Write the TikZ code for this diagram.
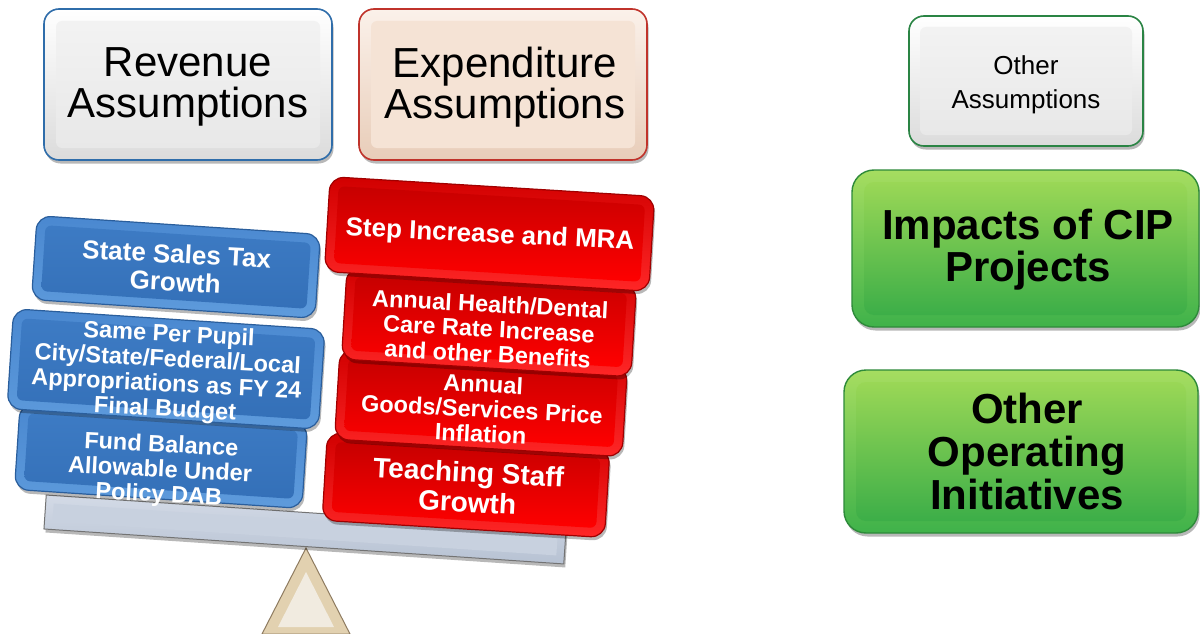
\documentclass[tikz,border=0pt]{standalone}
\usepackage{fontspec}
\setmainfont{Liberation Sans}
\usetikzlibrary{shadows}
\definecolor{revB}{HTML}{2F6DAA}
\definecolor{expB}{HTML}{C0332B}
\definecolor{othB}{HTML}{2A8444}
\definecolor{grnB}{HTML}{2E8A3A}
\definecolor{bluB}{HTML}{2A5E9C}
\definecolor{redB}{HTML}{A00000}
\definecolor{bluT}{HTML}{4A88D0}
\definecolor{bluBo}{HTML}{5E9BDC}
\definecolor{bluPT}{HTML}{3D7BC4}
\definecolor{bluPB}{HTML}{3470B8}
\definecolor{grnT}{HTML}{A6DD60}
\definecolor{grnBo}{HTML}{3FB24A}
\definecolor{grnPT}{HTML}{9AD756}
\definecolor{grnPB}{HTML}{3CAE48}
\definecolor{beamT}{HTML}{D3DAE6}
\definecolor{beamBo}{HTML}{B7C2D3}
\definecolor{beamP}{HTML}{C8D1DF}
\definecolor{fulF}{HTML}{E2D1B0}
\definecolor{fulP}{HTML}{F1EBE0}
\definecolor{fulB}{HTML}{8E7B60}
\definecolor{peachT}{HTML}{FBF1EA}
\definecolor{peachBo}{HTML}{E8CDB9}
\definecolor{peachP}{HTML}{F5E3D5}
\begin{document}
\begin{tikzpicture}[x=1pt,y=-1pt,
  shadowed/.style={drop shadow={shadow xshift=1.5pt,shadow yshift=-3.5pt,opacity=.28,fill=black}},
  topbox/.style={draw=#1,line width=1.6pt,rounded corners=15pt,shadowed,inner sep=0pt},
  graybox/.style={topbox=#1,top color=white,bottom color=black!14},
  graypanel/.style={rounded corners=6pt,inner sep=0pt,top color=black!5,bottom color=black!9},
  peachbox/.style={topbox=#1,top color=peachT,bottom color=peachBo},
  peachpanel/.style={rounded corners=6pt,inner sep=0pt,fill=peachP},
  grnbox/.style={draw=grnB,line width=1.4pt,rounded corners=22pt,shadowed,inner sep=0pt,
     top color=grnT,bottom color=grnBo},
  grnpanel/.style={rounded corners=10pt,inner sep=0pt,top color=grnPT,bottom color=grnPB},
  blubox/.style={draw=bluB,line width=1.2pt,rounded corners=14pt,shadowed,inner sep=0pt,
     top color=bluT,bottom color=bluBo},
  blupanel/.style={rounded corners=6pt,inner sep=0pt,top color=bluPT,bottom color=bluPB},
  redbox/.style={draw=redB,line width=1.2pt,rounded corners=14pt,shadowed,inner sep=0pt,
     top color=red!82!black,bottom color=red!85!white},
  redpanel/.style={rounded corners=6pt,inner sep=0pt,top color=red!78!black,bottom color=red},
  blktxt/.style={text=black,align=center,inner sep=0pt},
  whttxt/.style={text=white,align=center,inner sep=0pt,font=\bfseries\fontsize{23.5}{25}\selectfont},
]
\useasboundingbox (0,0) rectangle (1200,634);
\fill[white] (0,0) rectangle (1200,634);

% ---- top assumption boxes
\node[graybox=revB,minimum width=288pt,minimum height=151pt] (rev) at (188,84.5) {};
\node[graypanel,minimum width=264pt,minimum height=127pt] (revp) at (188,84.5) {};
\node[blktxt,font=\fontsize{42}{41}\selectfont] (revt) at (188,87) {Revenue\\Assumptions};

\node[peachbox=expB,minimum width=288pt,minimum height=151pt] (exp) at (503,84.5) {};
\node[peachpanel,minimum width=264pt,minimum height=127pt] (expp) at (503,84.5) {};
\node[blktxt,font=\fontsize{42}{41}\selectfont] (expt) at (505,87) {Expenditure\\Assumptions};

\node[graybox=othB,minimum width=234pt,minimum height=130pt] (oth) at (1026,81) {};
\node[graypanel,minimum width=212pt,minimum height=108pt] (othp) at (1026,81) {};
\node[blktxt,font=\fontsize{26}{34}\selectfont] (otht) at (1026,85) {Other\\Assumptions};

% ---- green boxes
\node[grnbox,minimum width=347pt,minimum height=157pt] (cip) at (1025.5,248.5) {};
\node[grnpanel,minimum width=323pt,minimum height=133pt] (cipp) at (1025.5,248.5) {};
\node[blktxt,font=\bfseries\fontsize{42}{42}\selectfont] (cipt) at (1028,250) {Impacts of CIP\\Projects};

\node[grnbox,minimum width=354pt,minimum height=163pt] (ooi) at (1021,451.5) {};
\node[grnpanel,minimum width=330pt,minimum height=139pt] (ooip) at (1021,451.5) {};
\node[blktxt,font=\bfseries\fontsize{42}{43}\selectfont] (ooit) at (1027,451) {Other\\Operating\\Initiatives};

% ---- fulcrum
\coordinate (fa) at (306,548);
\coordinate (fl) at (262,634);
\coordinate (fr) at (350,634);
\filldraw[draw=fulB,line width=1pt,fill=fulF] (fa) -- (fr) -- (fl) -- cycle;
\fill[fulP] (306,572) -- (334,627) -- (278,627) -- cycle;

% ---- beam
\node[draw=black!55,line width=1pt,inner sep=0pt,shadowed,minimum width=521pt,minimum height=34pt,rotate=-3.85,
      top color=beamT,bottom color=beamBo] (beam) at (305,529.5) {};
\node[inner sep=0pt,minimum width=505pt,minimum height=18pt,rotate=-3.85,fill=beamP] (beamp) at (305,529.5) {};

% ---- blue revenue stack
\node[blubox,minimum width=288pt,minimum height=86pt,rotate=-3.8] (fb) at (161,456) {};
\node[blupanel,minimum width=270pt,minimum height=68pt,rotate=-3.8] (fbp) at (161,456) {};
\node[whttxt,rotate=-3] (fbt) at (160,471) {Fund Balance\\Allowable Under\\Policy DAB};

\node[blubox,minimum width=312pt,minimum height=100pt,rotate=-3.8] (spp) at (166,369) {};
\node[blupanel,minimum width=294pt,minimum height=82pt,rotate=-3.8] (sppp) at (166,369) {};
\node[whttxt,rotate=-3] (sppt) at (167,373) {Same Per Pupil\\City/State/Federal/Local\\Appropriations as FY 24\\Final Budget};

\node[blubox,minimum width=284pt,minimum height=84pt,rotate=-3.8] (sst) at (176,267) {};
\node[blupanel,minimum width=266pt,minimum height=66pt,rotate=-3.8] (sstp) at (176,267) {};
\node[whttxt,font=\bfseries\fontsize{26}{28}\selectfont,rotate=-3] (sstt) at (176,268) {State Sales Tax\\Growth};

% ---- red expenditure stack
\node[redbox,minimum width=283pt,minimum height=88pt,rotate=-3.5] (tsg) at (466,485) {};
\node[redpanel,minimum width=265pt,minimum height=70pt,rotate=-3.5] (tsgp) at (466,485) {};
\node[whttxt,font=\bfseries\fontsize{28}{30}\selectfont,rotate=-3] (tsgt) at (468,487) {Teaching Staff\\Growth};

\node[redbox,minimum width=288pt,minimum height=90pt,rotate=-3.5] (gsp) at (481,403) {};
\node[redpanel,minimum width=270pt,minimum height=72pt,rotate=-3.5] (gspp) at (481,403) {};
\node[whttxt,rotate=-3] (gspt) at (482,409) {Annual\\Goods/Services Price\\Inflation};

\node[redbox,minimum width=290pt,minimum height=92pt,rotate=-3.5] (hdc) at (489,322) {};
\node[redpanel,minimum width=272pt,minimum height=74pt,rotate=-3.5] (hdcp) at (489,322) {};
\node[whttxt,rotate=-3] (hdct) at (489,329) {Annual Health/Dental\\Care Rate Increase\\and other Benefits};

\node[redbox,minimum width=325pt,minimum height=95pt,rotate=-3.5] (sim) at (489.5,234) {};
\node[redpanel,minimum width=307pt,minimum height=77pt,rotate=-3.5] (simp) at (489.5,234) {};
\node[whttxt,font=\bfseries\fontsize{26}{28}\selectfont,rotate=-2.8] (simt) at (490,236) {Step Increase and MRA};
\end{tikzpicture}
\end{document}
